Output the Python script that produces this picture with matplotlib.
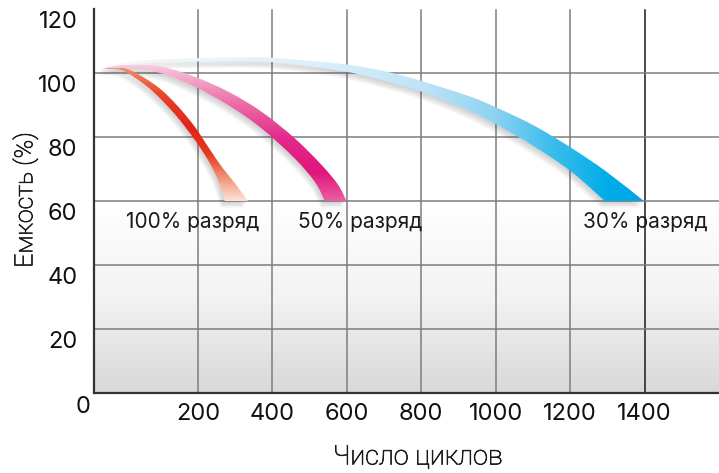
import numpy as np
import matplotlib
matplotlib.use('Agg')
import matplotlib.pyplot as plt
import matplotlib.patheffects as pe
from matplotlib.colors import LinearSegmentedColormap
from matplotlib.patches import PathPatch
from matplotlib.path import Path
from matplotlib.transforms import ScaledTranslation

plt.rcParams['font.family'] = ['Inter', 'DejaVu Sans']

# axes
x_ticks = [200, 400, 600, 800, 1000, 1200, 1400]
y_ticks = [20, 40, 60, 80, 100, 120]
x_label = 'Число циклов'
y_label = 'Емкость (%)'

# bands (outer / inner edge of each ribbon)
red_outer_x = [15, 40, 65, 98, 130, 162, 194, 227, 264, 299, 334]
red_outer_y = [101.2, 101.8, 101.2, 98.4, 94.7, 89.5, 83.2, 77.0, 70.7, 65.6, 60]
red_inner_x = [15, 53, 98, 130, 162, 194, 227, 254, 272]
red_inner_y = [101.2, 100.9, 96.3, 91.6, 85.9, 79.1, 72.8, 66.6, 60]

pink_outer_x = [15, 66, 130, 194, 281, 371, 460, 532, 577, 599]
pink_outer_y = [101.3, 102.7, 102.0, 98.8, 94.2, 87.9, 79.6, 71.3, 65.0, 60]
pink_inner_x = [15, 66, 130, 194, 281, 371, 460, 514, 541]
pink_inner_y = [101.3, 101.5, 99.9, 95.7, 90.0, 82.7, 73.3, 66.0, 60]

blue_outer_x = [11, 37, 101, 198, 331, 402, 599, 742, 922, 1002, 1100, 1203, 1297, 1398]
blue_outer_y = [101.5, 102.5, 104.0, 104.6, 104.9, 104.75, 102.65, 99.4, 93.0, 89.2, 83.75, 76.6, 69.2, 60]
blue_inner_x = [11, 101, 198, 402, 599, 742, 805, 922, 1002, 1100, 1203, 1293]
blue_inner_y = [101.5, 103.3, 103.6, 103.4, 100.4, 96.25, 94.0, 88.6, 83.9, 77.3, 69.2, 60]

labels = ['100% разряд', '50% разряд', '30% разряд']
label_x = [190, 635, 1403]
label_y = 53.4

# x axis: first 200 cycles are drawn wider than the rest
k = 104 / 74.5


def fwd(x):
    x = np.asarray(x, dtype=float)
    return np.where(x < 200, x * k, 200 * k + x - 200)


def inv(u):
    u = np.asarray(u, dtype=float)
    return np.where(u < 200 * k, u / k, u - 200 * k + 200)


def smooth(xs, ys):
    # catmull-rom through the points, as bezier control points (in scaled x)
    P = np.column_stack([fwd(xs), np.asarray(ys, dtype=float)])
    n = len(P)
    verts = [P[0]]
    for i in range(n - 1):
        p0 = P[i - 1] if i > 0 else P[i]
        p3 = P[i + 2] if i + 2 < n else P[i + 1]
        verts += [P[i] + (P[i + 1] - p0) / 6, P[i + 1] - (p3 - P[i]) / 6, P[i + 1]]
    verts = np.array(verts)
    verts[:, 0] = inv(verts[:, 0])
    return verts


def band_path(ox, oy, ix, iy):
    a = smooth(ox, oy)
    b = smooth(ix[::-1], iy[::-1])
    verts = np.vstack([a, b, a[:1]])
    codes = ([Path.MOVETO] + [Path.CURVE4] * (len(a) - 1) + [Path.LINETO]
             + [Path.CURVE4] * (len(b) - 1) + [Path.CLOSEPOLY])
    return Path(verts, codes)


fig = plt.figure(figsize=(7.19, 4.73), dpi=100)
ax = fig.add_axes([94 / 719, 80 / 473, 625 / 719, 384 / 473])
ax.set_xscale('function', functions=(fwd, inv))

# background: white on top, grey fade below the 60 line
bg = LinearSegmentedColormap.from_list('bg', ['#d8d8d8', '#f3f3f3', '#ffffff'])
ax.imshow(np.linspace(0, 1, 256).reshape(-1, 1), cmap=bg, origin='lower',
          extent=[0, 1, 0, 0.5], transform=ax.transAxes, aspect='auto', zorder=0)

ax.set_xticks(x_ticks)
ax.set_yticks(y_ticks)
for xv in x_ticks:
    ax.axvline(xv, ymax=119.6 / 120, color='#1a1a1a' if xv == 1400 else '#7d7d7d', lw=1.1, zorder=1)
for yv in y_ticks[:-1]:
    ax.axhline(yv, color='#7d7d7d', lw=1.1, zorder=1)


def band(ox, oy, ix, iy, cmap, along_x, z):
    path = band_path(ox, oy, ix, iy)
    # soft shadow down-left
    for dx, dy in [(1, 2), (2, 3.5), (3, 5), (4, 6.5)]:
        ax.add_patch(PathPatch(path, facecolor='#404040', edgecolor='none', alpha=0.06,
                               transform=ax.transData + ScaledTranslation(-dx / 100, -dy / 100, fig.dpi_scale_trans),
                               zorder=z - 0.5))
    patch = PathPatch(path, facecolor='none', edgecolor='none', transform=ax.transData)
    ax.add_patch(patch)
    if along_x:
        grad = np.linspace(0, 1, 512).reshape(1, -1)
        ext = [0, 1400, 55, 110]
    else:
        grad = np.linspace(0, 1, 256).reshape(-1, 1)
        ext = [0, 1600, 60, max(oy)]
    im = ax.imshow(grad, cmap=cmap, origin='lower', extent=ext, aspect='auto', zorder=z)
    im.set_clip_path(patch)


blue_cm = LinearSegmentedColormap.from_list('b', [(0, '#f2f9fd'), (0.36, '#dcf0fb'), (0.57, '#bfe4f7'),
                                                 (0.71, '#8fd3f3'), (0.82, '#3dbdec'), (0.93, '#00ade8'),
                                                 (1, '#00a4e1')])
pink_cm = LinearSegmentedColormap.from_list('p', [(0, '#ea5ea0'), (0.2, '#e1167d'), (0.45, '#e3288b'),
                                                 (0.7, '#ec6aa5'), (0.9, '#f3a9cb'), (1, '#f7d0e2')])
red_cm = LinearSegmentedColormap.from_list('r', [(0, '#fce3d6'), (0.15, '#f29c80'), (0.35, '#e5391f'),
                                                (0.55, '#e2231a'), (0.8, '#e8452b'), (1, '#f3926f')])

band(blue_outer_x, blue_outer_y, blue_inner_x, blue_inner_y, blue_cm, True, 3)
band(pink_outer_x, pink_outer_y, pink_inner_x, pink_inner_y, pink_cm, False, 4)
band(red_outer_x, red_outer_y, red_inner_x, red_inner_y, red_cm, False, 5)

for t, xv in zip(labels, label_x):
    ax.text(xv, label_y, t, ha='center', va='center', fontsize=15, color='#1a1a1a', zorder=6)

ax.set_xlim(0, 1600)
ax.set_ylim(0, 120)

for s in ['top', 'right']:
    ax.spines[s].set_visible(False)
for s in ['left', 'bottom']:
    ax.spines[s].set_color('#333333')
    ax.spines[s].set_linewidth(1.6)
    ax.spines[s].set_zorder(7)

ax.tick_params(length=0, labelsize=17, labelcolor='#111111')
ax.tick_params(axis='y', pad=12)
ax.tick_params(axis='x', pad=7)
for tick in ax.yaxis.get_major_ticks():
    tick.label1.set_transform(tick.label1.get_transform() + ScaledTranslation(0, -0.11, fig.dpi_scale_trans))

ax.annotate('0', xy=(0, 0), xytext=(-8, -10), textcoords='offset points',
            ha='center', va='center', fontsize=17, color='#111111', annotation_clip=False)

thin = [pe.withStroke(linewidth=0.5, foreground='#1a1a1a')]
fig.text(25 / 719, 1 - 200 / 473, y_label, rotation=90, ha='center', va='center',
         fontsize=18, color='#1a1a1a', family=['Roboto', 'DejaVu Sans'], fontweight='light',
         fontstyle='normal', path_effects=thin)
fig.text(418 / 719, 1 - 457 / 473, x_label, ha='center', va='center',
         fontsize=19.5, color='#1a1a1a', family=['Roboto', 'DejaVu Sans'], fontweight='light',
         fontstyle='normal', path_effects=thin)

fig.savefig('out.png', dpi=100)
